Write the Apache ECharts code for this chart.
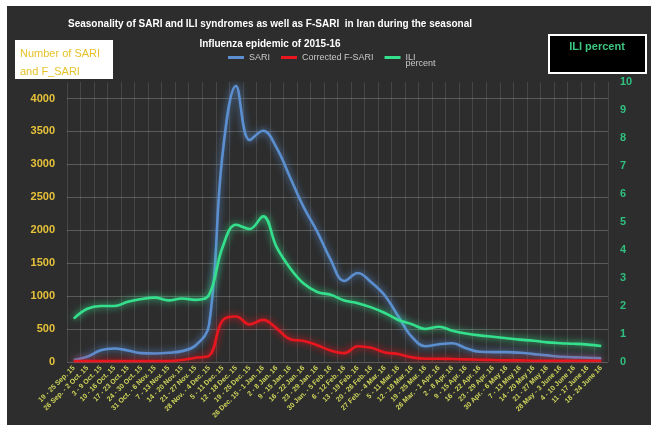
<!DOCTYPE html>
<html>
<head>
<meta charset="utf-8">
<script src="https://cdn.jsdelivr.net/npm/echarts@6/dist/echarts.min.js"></script>
<style>
html,body{margin:0;padding:0;background:#ffffff;width:651px;height:425px;overflow:hidden;}
#wrap{position:absolute;left:7px;top:6px;width:644px;height:419px;background:#2d2d2d;}
#chart{width:644px;height:419px;}
</style>
</head>
<body>
<div id="wrap"><div id="chart"></div></div>
<script>
const weeks = [
  "19 - 25 Sep. 15","26 Sep. - 2 Oct. 15","3 - 9 Oct. 15","10 - 16 Oct. 15","17 - 23 Oct. 15",
  "24 - 30 Oct. 15","31 Oct. - 6 Nov. 15","7 - 13 Nov. 15","14 - 20 Nov. 15","21 - 27 Nov. 15",
  "28 Nov. - 4 Dec. 15","5 - 11 Dec. 15","12 - 18 Dec. 15","19 - 25 Dec. 15","26 Dec. 15 - 1 Jan. 16",
  "2 - 8 Jan. 16","9 - 15 Jan. 16","16 - 22 Jan. 16","23 - 29 Jan. 16","30 Jan. - 5 Feb. 16",
  "6 - 12 Feb. 16","13 - 19 Feb. 16","20 - 26 Feb. 16","27 Feb. - 4 Mar. 16","5 - 11 Mar. 16",
  "12 - 18 Mar. 16","19 - 25 Mar. 16","26 Mar. - 1 Apr. 16","2 - 8 Apr. 16","9 - 15 Apr. 16",
  "16 - 22 Apr. 16","23 - 29 Apr. 16","30 Apr. - 6 May 16","7 - 13 May 16","14 - 20 May 16",
  "21 - 27 May 16","28 May - 3 June 16","4 - 10 June 16","11 - 17 June 16","18 - 24 June 16"
];
const sari = [30,80,180,205,175,135,130,140,165,250,560,3150,4190,3370,3510,3250,2800,2350,1980,1550,
  1230,1350,1210,1010,690,380,240,270,285,210,155,150,150,140,120,100,80,70,65,55];
const fsari = [15,15,15,15,15,15,15,15,30,65,95,630,690,570,640,510,345,320,255,175,
  135,240,215,145,120,70,50,50,45,40,35,30,25,25,20,20,20,20,20,20];
const ili = [1.55,1.9,2.0,2.0,2.15,2.25,2.3,2.2,2.27,2.22,2.4,4.1,4.9,4.75,5.2,4.1,3.35,2.8,2.5,2.4,
  2.2,2.1,1.95,1.75,1.5,1.35,1.18,1.26,1.12,1.02,0.95,0.9,0.85,0.8,0.76,0.7,0.67,0.65,0.62,0.57];
const leftTicks = {min:0, max:4250, interval:500};
const rightTicks = {min:0, max:10, interval:1};

const FONT = "'Liberation Sans',sans-serif";
const chart = echarts.init(document.getElementById('chart'), null, {renderer:'canvas'});
function glowLine(color){
  return {color:color, width:2.6, shadowBlur:7, shadowColor:color};
}
chart.setOption({
  backgroundColor:'#2d2d2d',
  animation:false,
  textStyle:{fontFamily:FONT},
  title:{
    text:'Seasonality of SARI and ILI syndromes as well as F-SARI  in Iran during the seasonal\nInfluenza epidemic of 2015-16',
    left:258, top:3, textAlign:'center',
    textStyle:{color:'#ffffff', fontSize:10, fontWeight:'bold', lineHeight:20, fontFamily:FONT}
  },
  legend:{
    left:216, top:29, itemWidth:16, itemHeight:3, itemGap:11, icon:'rect',
    data:['SARI','Corrected F-SARI','ILI percent'],
    formatter:function(n){ return n==='ILI percent' ? '{t|ILI}\n{p|percent}' : n; },
    textStyle:{color:'#c8c8c8', fontSize:9, fontFamily:FONT,
      rich:{t:{color:'#c8c8c8',fontSize:9,lineHeight:13,padding:[13,0,0,0]},
            p:{color:'#c8c8c8',fontSize:9,lineHeight:13}}}
  },
  grid:{left:60, right:43, top:76, bottom:63},
  xAxis:{
    type:'category', data:weeks, boundaryGap:true,
    axisLine:{show:false}, axisTick:{show:false},
    splitLine:{show:true, lineStyle:{color:'rgba(255,255,255,0.12)', width:1}},
    axisLabel:{interval:0, rotate:45, fontSize:7, fontWeight:'bold', color:'#cfd55a', margin:5, fontFamily:FONT}
  },
  yAxis:[
    {type:'value', min:leftTicks.min, max:leftTicks.max, interval:leftTicks.interval,
     axisLine:{show:false}, axisTick:{show:false},
     splitLine:{show:true, showMaxLine:false, lineStyle:{color:'#5a5a5a', width:1}},
     axisLabel:{showMaxLabel:false, formatter:function(v){return String(v);}, color:'#e6c23a', fontSize:11, fontWeight:'bold', margin:12, fontFamily:FONT}},
    {type:'value', min:rightTicks.min, max:rightTicks.max, interval:rightTicks.interval, position:'right',
     axisLine:{show:false}, axisTick:{show:false}, splitLine:{show:false},
     axisLabel:{formatter:function(v){return String(v);}, color:'#2fbf7f', fontSize:11, fontWeight:'bold', margin:12, fontFamily:FONT}}
  ],
  series:[
    {name:'SARI', type:'line', data:sari, yAxisIndex:0, smooth:0.4, symbol:'none', itemStyle:{color:'#5b8fd0'}, lineStyle:glowLine('#5b8fd0'), z:3},
    {name:'Corrected F-SARI', type:'line', data:fsari, yAxisIndex:0, smooth:0.4, symbol:'none', itemStyle:{color:'#e8161e'}, lineStyle:glowLine('#e8161e'), z:4},
    {name:'ILI percent', type:'line', data:ili, yAxisIndex:1, smooth:0.4, symbol:'none', itemStyle:{color:'#35e08c'}, lineStyle:glowLine('#35e08c'), z:5}
  ],
  graphic:[
    {type:'group', left:8, top:34, children:[
      {type:'rect', shape:{x:0,y:0,width:98,height:39}, style:{fill:'#ffffff'}},
      {type:'text', x:5, y:5, style:{text:'Number of SARI\nand F_SARI', fill:'#e6c229', fontSize:11, lineHeight:18, fontFamily:FONT}}
    ]},
    {type:'group', left:541, top:28, children:[
      {type:'rect', shape:{x:0,y:0,width:97,height:38}, style:{fill:'#000000', stroke:'#ffffff', lineWidth:2}},
      {type:'text', x:48, y:6, style:{text:'ILI percent', fill:'#3cc77f', fontSize:11, fontWeight:'bold', align:'center', fontFamily:FONT}}
    ]}
  ]
});
</script>
</body>
</html>
